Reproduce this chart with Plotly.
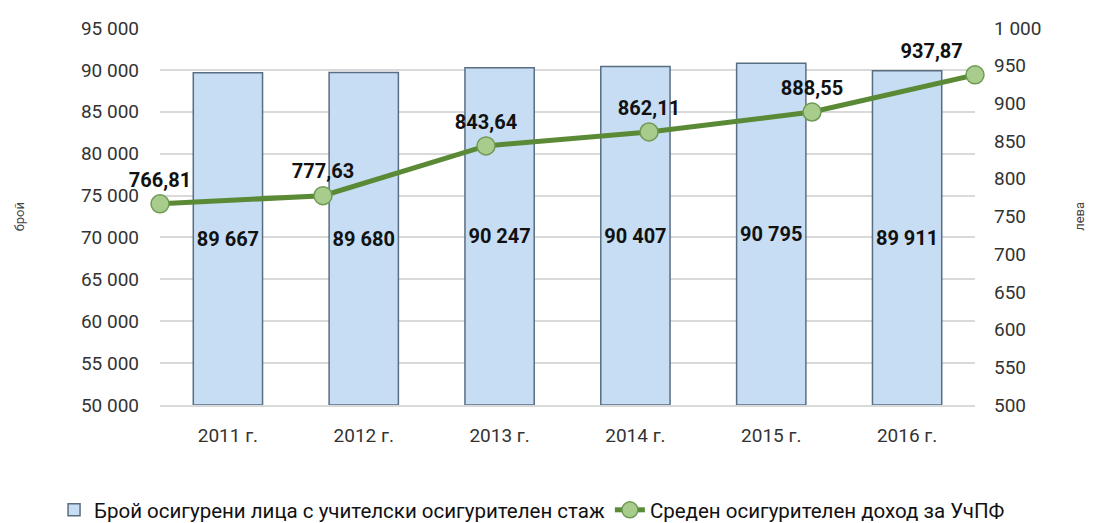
import plotly.graph_objects as go

years = ["2011 г.", "2012 г.", "2013 г.", "2014 г.", "2015 г.", "2016 г."]
insured = [89667, 89680, 90247, 90407, 90795, 89911]
income = [766.81, 777.63, 843.64, 862.11, 888.55, 937.87]
left_ticks = list(range(50000, 95001, 5000))
right_ticks = list(range(500, 1001, 50))

FONT = "Roboto, sans-serif"

def fmt_int(v):
    return f"{v:,}".replace(",", " ")

def fmt_dec(v):
    return f"{v:.2f}".replace(".", ",")

fig = go.Figure()
fig.add_trace(go.Bar(
    x=years, y=[v - 50000 for v in insured], base=50000,
    name="Брой осигурени лица с учителски осигурителен стаж",
    marker=dict(color="#C6DDF3", line=dict(color="#5A6E82", width=1.5)),
    text=[fmt_int(v) for v in insured], textposition="inside",
    insidetextanchor="middle",
    textfont=dict(family=FONT, size=20, color="#111111", weight="bold"),
    xaxis="x", yaxis="y",
))
fig.add_trace(go.Scatter(
    x=list(range(len(years))), y=income,
    name="Среден осигурителен доход за УчПФ",
    mode="lines+markers+text",
    line=dict(color="#5A8A35", width=5),
    marker=dict(size=18, color="#A8CC8C", line=dict(color="#6E9A55", width=1.5)),
    text=[fmt_dec(v) for v in income],
    textposition=["top center"] * 5 + ["top left"],
    textfont=dict(family=FONT, size=20, color="#111111", weight="bold"),
    cliponaxis=False,
    xaxis="x2", yaxis="y2",
))

fig.update_layout(
    width=1088, height=515,
    margin=dict(l=152, r=121, t=20, b=118, autoexpand=False),
    paper_bgcolor="white", plot_bgcolor="white",
    font=dict(family=FONT, size=19, color="#333333"),
    bargap=0.49,
    showlegend=True,
    legend=dict(orientation="h", x=-0.13, xanchor="left",
                y=-0.2785, yanchor="middle",
                font=dict(family=FONT, size=20.5, color="#111111"),
                itemwidth=30, tracegroupgap=0),
    xaxis=dict(type="category", range=[-0.5, 5.5], showgrid=False,
               showline=True, linecolor="#D9D9D9", linewidth=2, ticks="",
               ticklabelstandoff=12,
               tickfont=dict(family=FONT, size=19, color="#333333")),
    xaxis2=dict(overlaying="x", range=[0, 5], visible=False),
    yaxis=dict(range=[50000, 95000], tickvals=left_ticks,
               ticktext=[fmt_int(v) for v in left_ticks],
               showgrid=True, gridcolor="#D9D9D9", gridwidth=1.5,
               zeroline=False, ticks="", ticklabelstandoff=20,
               tickfont=dict(family=FONT, size=19, color="#333333")),
    yaxis2=dict(range=[500, 1000], overlaying="y", side="right",
                tickvals=right_ticks,
                ticktext=[fmt_int(v) for v in right_ticks],
                showgrid=False, zeroline=False, ticks="", ticklabelstandoff=18,
                tickfont=dict(family=FONT, size=19, color="#333333")),
    annotations=[
        dict(text="брой", xref="paper", yref="paper", x=-0.172, y=0.5,
             xanchor="center", yanchor="middle",
             textangle=-90, showarrow=False,
             font=dict(family=FONT, size=13, color="#444444")),
        dict(text="лева", xref="paper", yref="paper", x=1.128, y=0.5,
             xanchor="center", yanchor="middle",
             textangle=-90, showarrow=False,
             font=dict(family=FONT, size=13, color="#444444")),
    ],
)

fig.write_html("out.html")
